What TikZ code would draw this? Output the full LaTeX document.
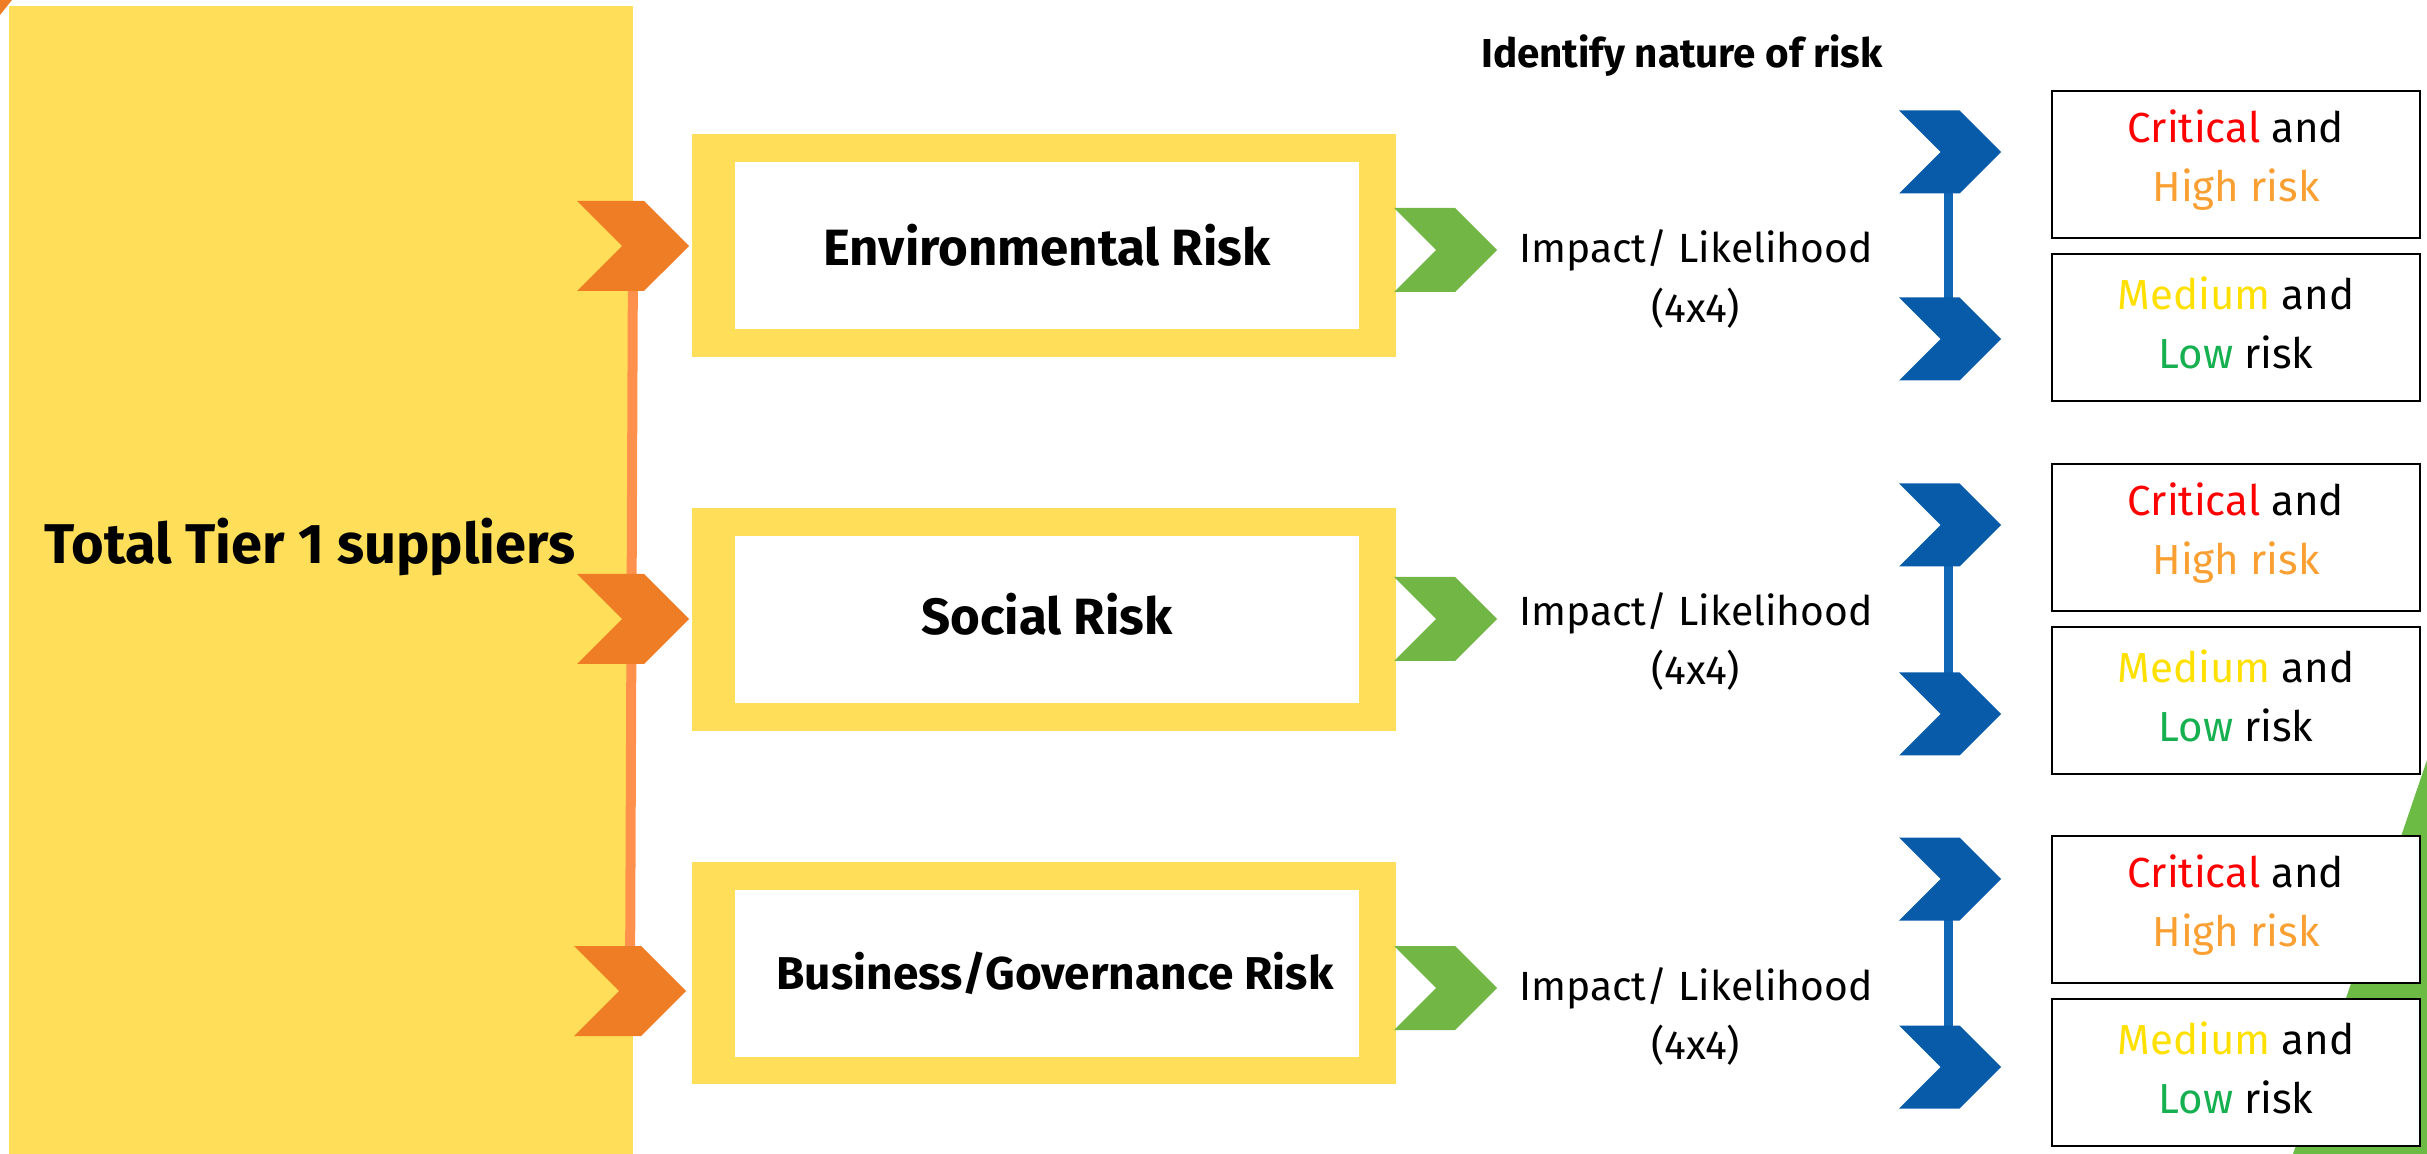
\documentclass[tikz,border=0pt]{standalone}
\usepackage{fontspec}
\setmainfont{Fira Sans}
\usepackage{xcolor}
\usepackage{tikz}
\usetikzlibrary{shapes.symbols,calc,positioning}

\definecolor{tieryellow}{RGB}{255,222,89}
\definecolor{chevorange}{RGB}{238,125,38}
\definecolor{lineorange}{RGB}{255,145,77}
\definecolor{chevgreen}{RGB}{114,182,70}
\definecolor{cornergreen}{RGB}{108,187,69}
\definecolor{chevblue}{RGB}{8,91,169}
\definecolor{lineblue}{RGB}{15,103,181}
\definecolor{critred}{RGB}{255,0,0}
\definecolor{highorange}{RGB}{250,160,50}
\definecolor{medyellow}{RGB}{255,224,0}
\definecolor{lowgreen}{RGB}{22,176,80}

\tikzset{%
      chevron/.style = { signal, signal to=east, signal from=west, inner sep=0pt, outer sep=0pt },
   orangechev/.style = { chevron, fill=chevorange, minimum width=56pt, minimum height=45pt },
    greenchev/.style = { chevron, fill=chevgreen, minimum width=51.5pt, minimum height=42pt },
     bluechev/.style = { chevron, fill=chevblue, minimum width=51pt, minimum height=41.5pt },
   riskinner/.style = { fill=white, minimum width=312pt, minimum height=83.5pt, inner sep=0pt },
   risklabel/.style = { font=\bfseries\fontsize{25.5}{30}\selectfont },
  impactlabel/.style = { align=center, font=\fontsize{20.4}{29.5}\selectfont },
     riskbox/.style = { draw=black, line width=0.8pt, minimum width=184pt,
                        minimum height=73.5pt, inner sep=0pt },
    risktext/.style = { align=center, font=\fontsize{21}{29.5}\selectfont }
}

\newcommand{\critbox}{\textcolor{critred}{Critical} and\\\textcolor{highorange}{High risk}}
\newcommand{\lowbox}{\textcolor{medyellow}{Medium} and\\\textcolor{lowgreen}{Low} risk}

\begin{document}
\begin{tikzpicture}[x=0.5pt,y=-0.5pt]
\useasboundingbox (0,0) rectangle (2427,1154);
% supplier block
\fill[chevorange] (0,0) -- (12,0) -- (0,15) -- cycle;
\fill[tieryellow] (9,6) rectangle (633,1154);
\node[font=\bfseries\fontsize{28}{32}\selectfont] (tier) at (310,547) {Total Tier 1 suppliers};
% corner wedge
\fill[cornergreen] (2427,760) -- (2293,1154) -- (2427,1154) -- cycle;

% orange spine and chevrons
\coordinate (o1) at (633,246);
\coordinate (o2) at (633,619);
\coordinate (o3) at (630,991);
\draw[lineorange,line width=5pt] (o1) -- (o3);
\foreach \n in {1,2,3}
  \node[orangechev] (oc\n) at (o\n) {};

% risk categories
\fill[tieryellow] (692,134) rectangle (1396,357);
\fill[tieryellow] (692,508) rectangle (1396,731);
\fill[tieryellow] (692,862) rectangle (1396,1084);
\node[riskinner] (envbox) at (1047,245.5) {};
\node[riskinner] (socbox) at (1047,620) {};
\node[riskinner] (govbox) at (1047,973.5) {};
\node[risklabel] (env) at (1047,245.5) {Environmental Risk};
\node[risklabel] (soc) at (1047,614) {Social Risk};
\node[font=\bfseries\fontsize{23}{28}\selectfont] (gov) at (1055,973.5) {Business/Governance Risk};

% green chevrons
\node[greenchev] (gc1) at (1445.5,250) {};
\node[greenchev] (gc2) at (1445.5,619) {};
\node[greenchev] (gc3) at (1445.5,988) {};

\node[font=\bfseries\fontsize{20.2}{24}\selectfont,anchor=base] (nature) at (1682,68) {Identify nature of risk};
\node[impactlabel] (imp1) at (1696,279) {Impact/ Likelihood\\(4x4)};
\node[impactlabel] (imp2) at (1696,641) {Impact/ Likelihood\\(4x4)};
\node[impactlabel] (imp3) at (1696,1016) {Impact/ Likelihood\\(4x4)};

% blue split
\coordinate (b1) at (1948,152);
\coordinate (b2) at (1948,339);
\coordinate (b3) at (1948,525);
\coordinate (b4) at (1948,714);
\coordinate (b5) at (1948,879);
\coordinate (b6) at (1948,1067);
\draw[lineblue,line width=4.5pt] (b1) -- (b2);
\draw[lineblue,line width=4.5pt] (b3) -- (b4);
\draw[lineblue,line width=4.5pt] (b5) -- (b6);
\foreach \n in {1,...,6}
  \node[bluechev] (bc\n) at ($(b\n)+(2,0)$) {};

% outcome boxes
\node[riskbox,fill=white] (envhi) at (2236,164.5) {};
\node[riskbox,fill=white] (envlo) at (2236,327.5) {};
\node[riskbox,fill=white] (sochi) at (2236,537.5) {};
\node[riskbox,fill=white] (soclo) at (2236,700.5) {};
\node[riskbox,fill=white] (govhi) at (2236,909.5) {};
\node[riskbox,fill=white] (govlo) at (2236,1072.5) {};
\node[risktext] (envhitxt) at ($(envhi)+(0,-4)$) {\critbox};
\node[risktext] (envlotxt) at ($(envlo)+(0,-5)$) {\lowbox};
\node[risktext] (sochitxt) at ($(sochi)+(0,-4)$) {\critbox};
\node[risktext] (soclotxt) at ($(soclo)+(0,-5)$) {\lowbox};
\node[risktext] (govhitxt) at ($(govhi)+(0,-4)$) {\critbox};
\node[risktext] (govlotxt) at ($(govlo)+(0,-5)$) {\lowbox};
\end{tikzpicture}
\end{document}
